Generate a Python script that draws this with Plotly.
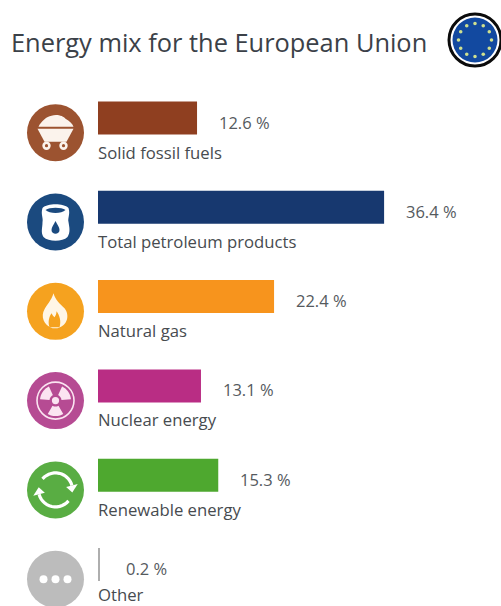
import math
import re
import plotly.graph_objects as go

# Share of gross available energy by fuel
categories = ["Solid fossil fuels", "Total petroleum products", "Natural gas",
              "Nuclear energy", "Renewable energy", "Other"]
values = [12.6, 36.4, 22.4, 13.1, 15.3, 0.2]
bar_colors = ["#8f3f20", "#17386f", "#f7941d", "#b92d84", "#4ea82f", "#aeaeae"]
badge_colors = ["#9c5330", "#1b4a7f", "#f5a21f", "#b64b93", "#59ad43", "#bcbcbc"]
title_text = "Energy mix for the European Union"

WIDTH, HEIGHT = 501, 606
PX_PER_UNIT = 7.86
BAR_LEFT = 98
FIRST_ROW = 118
ROW_STEP = 89.3
BADGE_X = 55.5
BADGE_OFFSET = 14.7
BADGE_R = 28.5

shapes = []


def anchored(cx, cy):
    return dict(xref="paper", yref="paper", xsizemode="pixel", ysizemode="pixel",
                xanchor=cx / WIDTH, yanchor=1 - cy / HEIGHT, layer="above")


def circle(cx, cy, r, fill=None, line=None, lw=0, dx=0, dy=0):
    s = anchored(cx, cy)
    s.update(type="circle", x0=dx - r, x1=dx + r, y0=-dy - r, y1=-dy + r,
             fillcolor=fill or "rgba(0,0,0,0)",
             line=dict(color=line or "rgba(0,0,0,0)", width=lw))
    shapes.append(s)


def path(cx, cy, d, fill=None, line=None, lw=0):
    # Paths are written with y pointing down; pixel-sized shapes count y upward.
    nums = iter(range(10 ** 6))
    flip = lambda m: str(-float(m.group())) if next(nums) % 2 else m.group()
    s = anchored(cx, cy)
    s.update(type="path", path=re.sub(r"-?\d+\.?\d*", flip, d),
             fillcolor=fill or "rgba(0,0,0,0)",
             line=dict(color=line or "rgba(0,0,0,0)", width=lw))
    shapes.append(s)


def arc_points(r, a0, a1, n=14):
    return [(r * math.cos(math.radians(a0 + (a1 - a0) * i / n)),
             r * math.sin(math.radians(a0 + (a1 - a0) * i / n))) for i in range(n + 1)]


def poly(points, close=True):
    d = "M" + " L".join(f"{x:.2f},{y:.2f}" for x, y in points)
    return d + (" Z" if close else "")


def cart_icon(cx, cy, color):
    w = "#fbf3ec"
    path(cx, cy, "M-17,-6 C-14,-12 -9,-16 -4,-17 C1,-19 8,-17 10,-14 C14,-12 17,-9 18,-6 Z", fill=w)
    path(cx, cy, "M-18,-4 L18,-4 L11,9 L-11,9 Z", fill=w)
    for dx in (-9, 8):
        circle(cx, cy, 4.2, fill=w, dx=dx, dy=13)
        circle(cx, cy, 1.6, fill=color, dx=dx, dy=13)


def barrel_icon(cx, cy, color):
    w = "#ffffff"
    path(cx, cy, "M-13,-14 C-8,-19 8,-19 13,-14 C15,-8 12,-4 13,0 C14,6 15,10 12,15 "
                 "C7,20 -7,20 -12,15 C-15,10 -13,6 -13,0 C-12,-4 -15,-8 -13,-14 Z", fill=w)
    path(cx, cy, "M-10,-12 C-6,-15 6,-15 10,-12 C6,-8 -6,-8 -10,-12 Z", fill=color)
    path(cx, cy, "M0,-1 C2,3 4,5 4,8 C4,13 -4,13 -4,8 C-4,5 -2,3 0,-1 Z", fill=color)


def flame_icon(cx, cy):
    path(cx, cy, "M-2,-18 C0,-11 4,-8 9,-3 C14,3 13,14 2,17 L-3,17 "
                 "C-12,14 -15,5 -11,-2 C-9,-6 -4,-11 -2,-18 Z", fill="#fff6e6")
    path(cx, cy, "M-6,16 C-8,10 -6,5 -4,2 C-3,4 -2,5 -1,6 C0,4 1,3 1,0 C4,4 6,10 4,16 Z",
         fill="#f5a21f")


def radiation_icon(cx, cy):
    w = "#fbe4f1"
    circle(cx, cy, 18.5, line=w, lw=1.6)
    for angle in (-145, -35, 90):
        outer = arc_points(15.5, angle - 30, angle + 30)
        inner = arc_points(6, angle + 30, angle - 30)
        path(cx, cy, poly(outer + inner), fill=w)
    circle(cx, cy, 3.6, fill=w)


def cycle_icon(cx, cy):
    w = "#ffffff"
    # Two clockwise arcs, each ending in an arrowhead
    for a0, a1 in ((-140, -15), (40, 165)):
        path(cx, cy, poly(arc_points(17, a0, a1), close=False), line=w, lw=3.2)
        end = math.radians(a1)
        nose = math.radians(a1 + 24)
        tip = (17 * math.cos(nose), 17 * math.sin(nose))
        base_out = (23 * math.cos(end), 23 * math.sin(end))
        base_in = (11 * math.cos(end), 11 * math.sin(end))
        path(cx, cy, poly([tip, base_out, base_in]), fill=w)


def dots_icon(cx, cy):
    for dx in (-12, 0, 12):
        circle(cx, cy, 4, fill="#ffffff", dx=dx)


icons = [cart_icon, barrel_icon, lambda x, y, c: flame_icon(x, y),
         lambda x, y, c: radiation_icon(x, y), lambda x, y, c: cycle_icon(x, y),
         lambda x, y, c: dots_icon(x, y)]

for i, (icon, color) in enumerate(zip(icons, badge_colors)):
    cy = FIRST_ROW + BADGE_OFFSET + ROW_STEP * i
    circle(BADGE_X, cy, BADGE_R, fill=color)
    icon(BADGE_X, cy, color)

# European flag roundel beside the heading
FLAG_X, FLAG_Y = 475, 40
circle(FLAG_X, FLAG_Y, 26, fill="#ffffff", line="#0b0b0b", lw=3)
circle(FLAG_X, FLAG_Y, 22.5, fill="#1249a0")
for k in range(12):
    a = math.radians(30 * k)
    circle(FLAG_X, FLAG_Y, 1.8, fill="#cfe08f", dx=16.5 * math.cos(a), dy=16.5 * math.sin(a))

fig = go.Figure(go.Bar(
    x=values, y=categories, orientation="h", width=0.37,
    marker=dict(color=bar_colors, line=dict(width=0)),
    hoverinfo="x+y",
))

annotations = []
for i, (name, value) in enumerate(zip(categories, values)):
    last_row = i == len(categories) - 1
    annotations.append(dict(
        x=value, y=name, text=f"{value} %", xanchor="left", yanchor="middle",
        xshift=24 if last_row else 20, yshift=-4, showarrow=False,
        font=dict(family="Open Sans", size=16.5, color="#555a5e"),
    ))
    # The bottom label sits a little higher so it stays inside the page
    annotations.append(dict(
        x=0, y=name, text=name, xanchor="left", yanchor="middle",
        xshift=-2, yshift=-30 if last_row else -34, showarrow=False,
        font=dict(family="Open Sans", size=16.7, color="#474b4f"),
    ))

fig.update_layout(
    width=WIDTH, height=HEIGHT,
    margin=dict(l=0, r=0, t=0, b=0),
    paper_bgcolor="#ffffff", plot_bgcolor="#ffffff",
    showlegend=False,
    title=dict(text=title_text, x=11 / WIDTH, xanchor="left", y=1 - 43 / HEIGHT, yanchor="middle",
               font=dict(family="Open Sans", size=25.4, color="#3b4148")),
    xaxis=dict(range=[-BAR_LEFT / PX_PER_UNIT, (WIDTH - BAR_LEFT) / PX_PER_UNIT], visible=False),
    yaxis=dict(type="category", categoryorder="array", categoryarray=categories,
               range=[(HEIGHT - FIRST_ROW) / ROW_STEP, -FIRST_ROW / ROW_STEP], visible=False),
    shapes=shapes,
    annotations=annotations,
)

fig.write_html("out.html")
